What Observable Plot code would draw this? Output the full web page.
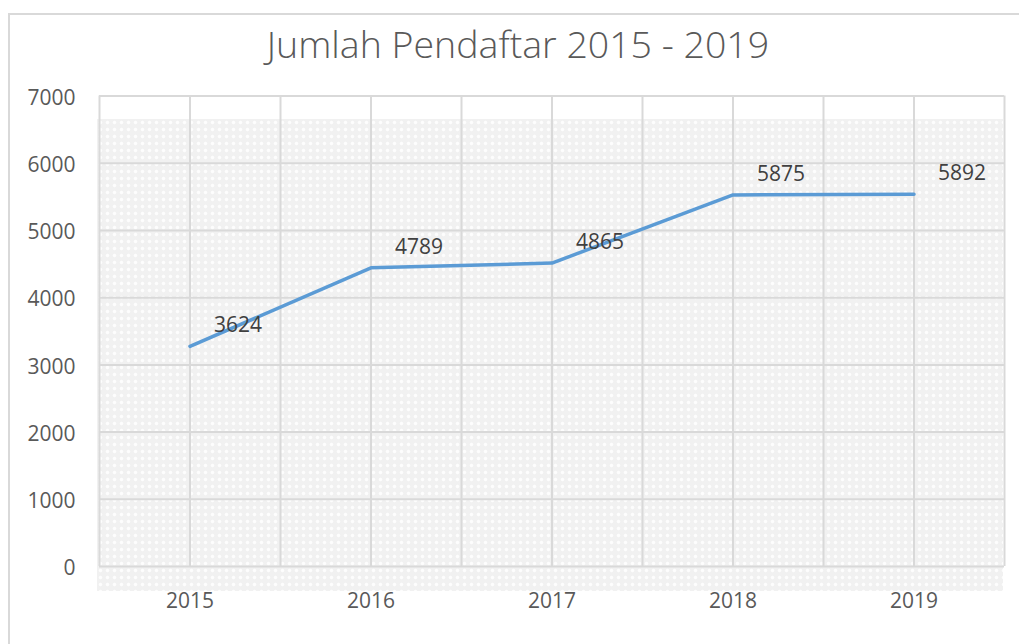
<!DOCTYPE html>
<html>
<head>
<meta charset="utf-8">
<script src="https://cdn.jsdelivr.net/npm/d3@7"></script>
<script src="https://cdn.jsdelivr.net/npm/@observablehq/plot@0.6"></script>
<style>
  html, body { margin: 0; padding: 0; background: #fff; }
  #wrap { position: relative; width: 1019px; height: 644px; overflow: hidden; font-family: "Open Sans", sans-serif; }
  #border { position: absolute; left: 8px; top: 13px; width: 1100px; height: 800px; border: 2px solid #d9d9d9; box-sizing: border-box; }
  #texture { position: absolute; left: 97px; top: 119px; width: 906px; height: 472px;
    background-color: #f1f1f1;
    background-image: radial-gradient(circle, rgba(255,255,255,0.85) 1.3px, rgba(255,255,255,0) 2.2px);
    background-size: 7px 7px; }
  #content { position: relative; z-index: 1; }
  #title { height: 80px; box-sizing: border-box; padding-top: 25px; padding-left: 17px; text-align: center;
    font-family: "Open Sans", sans-serif; font-weight: 300; font-size: 37.5px; line-height: 37px; color: #595959; }
</style>
</head>
<body>
<div id="wrap">
  <div id="border"></div>
  <div id="texture"></div>
  <div id="content">
    <div id="title">Jumlah Pendaftar 2015 - 2019</div>
    <div id="chart"></div>
  </div>
</div>
<script>
const years = [2015, 2016, 2017, 2018, 2019];
const values = [3275, 4445, 4515, 5530, 5540];
const labels = ["3624", "4789", "4865", "5875", "5892"];
const yTicks = [0, 1000, 2000, 3000, 4000, 5000, 6000, 7000];

const data = years.map((year, i) => ({ year, value: values[i], label: labels[i] }));
const xGrid = years.flatMap(y => [y - 0.5, y]).concat([years[years.length - 1] + 0.5]);

const chart = Plot.plot({
  width: 1019,
  height: 564,
  marginLeft: 99,
  marginRight: 15,
  marginTop: 15.6,
  marginBottom: 78,
  style: { fontFamily: "Open Sans, sans-serif", fontSize: "21px", color: "#595959", background: "transparent", overflow: "visible" },
  x: { domain: [years[0] - 0.5, years[years.length - 1] + 0.5] },
  y: { domain: [yTicks[0], yTicks[yTicks.length - 1]] },
  marks: [
    Plot.ruleX(xGrid, { stroke: "#d9d9d9", strokeWidth: 2 }),
    Plot.ruleY(yTicks, { stroke: "#d9d9d9", strokeWidth: 2 }),
    Plot.line(data, { x: "year", y: "value", stroke: "#5b9bd5", strokeWidth: 3.5 }),
    Plot.text(data, { x: "year", y: "value", text: "label", dx: 48, dy: -21, fontSize: 21, fill: "#404040" }),
    Plot.axisX(years, { tickSize: 0, tickPadding: 27, tickFormat: d => String(d), fontSize: 21, label: null }),
    Plot.axisY(yTicks, { tickSize: 0, tickPadding: 24, dy: 2, tickFormat: d => String(d), fontSize: 21, label: null })
  ]
});
document.getElementById("chart").appendChild(chart);
</script>
</body>
</html>
